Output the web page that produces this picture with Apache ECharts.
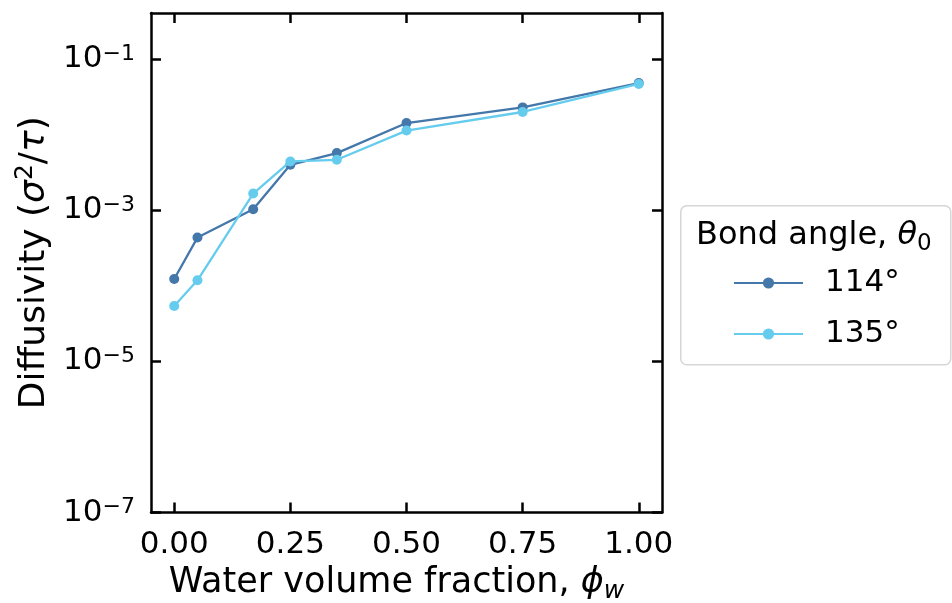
<!DOCTYPE html>
<html><head><meta charset="utf-8">
<script src="https://cdn.jsdelivr.net/npm/echarts@6/dist/echarts.min.js"></script>
<style>html,body{margin:0;padding:0;background:#fff}#c{width:952px;height:603px}</style>
</head><body><div id="c"></div>
<script>
const phi = [0, 0.05, 0.17, 0.25, 0.35, 0.5, 0.75, 1.0];
const d114 = [1.23e-4, 4.34e-4, 1.03e-3, 3.98e-3, 5.69e-3, 0.0142, 0.0229, 0.048];
const d135 = [5.4e-5, 1.18e-4, 1.66e-3, 4.41e-3, 4.64e-3, 0.0113, 0.0199, 0.0467];
const seriesNames = ['114°', '135°'];
const seriesColors = ['#4477AA', '#66CCEE'];
const xTicks = [0, 0.25, 0.5, 0.75, 1.0];
const xTickLabels = ['0.00', '0.25', '0.50', '0.75', '1.00'];
const yTicks = [1e-7, 1e-5, 1e-3, 1e-1];
const yTickExponents = ['−7', '−5', '−3', '−1'];
const xRange = [-0.05, 1.05];
const yRange = [1e-7, 0.406];

const FONT = 'DejaVu Sans';
const chart = echarts.init(document.getElementById('c'), null, {renderer: 'canvas'});

function pairs(xs, ys) { return xs.map((x, i) => [x, ys[i]]); }

const tickStyle = {show: true, inside: true, length: 10, lineStyle: {color: '#000', width: 2.5}};
const lineStyle = {show: true, onZero: false, lineStyle: {color: '#000', width: 2.5}};

function yFmt(v) {
  for (let i = 0; i < yTicks.length; i++) {
    if (Math.abs(Math.log10(v) - Math.log10(yTicks[i])) < 1e-6) return '{b|10}{s|' + yTickExponents[i] + '}';
  }
  return '';
}
function xFmt(v) {
  for (let i = 0; i < xTicks.length; i++) if (Math.abs(v - xTicks[i]) < 1e-9) return xTickLabels[i];
  return '';
}

const option = {
  animation: false,
  backgroundColor: '#fff',
  grid: {left: 151, right: 290, top: 13, height: 499.5, containLabel: false, outerBoundsMode: 'none'},
  xAxis: [{
    type: 'value', min: xRange[0], max: xRange[1], position: 'bottom',
    axisLine: lineStyle,
    axisTick: Object.assign({customValues: xTicks}, tickStyle),
    axisLabel: {customValues: xTicks, formatter: xFmt, fontFamily: FONT, fontSize: 31, color: '#000', margin: 17},
    splitLine: {show: false},
    name: '{t|Water volume fraction, }{i|ϕ}{sub|w}',
    nameLocation: 'middle', nameGap: 47,
    nameTextStyle: {padding: [0, 20, 0, 0], rich: {
      t: {fontFamily: FONT, fontSize: 35, color: '#000', lineHeight: 42},
      i: {fontFamily: FONT, fontStyle: 'italic', fontSize: 35, color: '#000', lineHeight: 42},
      sub: {fontFamily: FONT, fontStyle: 'italic', fontSize: 25, color: '#000', lineHeight: 26, verticalAlign: 'bottom'}
    }}
  }, {
    type: 'value', min: xRange[0], max: xRange[1], position: 'top',
    axisLine: lineStyle,
    axisTick: Object.assign({customValues: xTicks}, tickStyle),
    axisLabel: {show: false}, splitLine: {show: false}
  }],
  yAxis: [{
    type: 'log', logBase: 10, min: yRange[0], max: yRange[1], position: 'left',
    axisLine: lineStyle,
    axisTick: Object.assign({customValues: yTicks}, tickStyle),
    minorTick: {show: false},
    axisLabel: {customValues: yTicks, formatter: yFmt, margin: 16, rich: {
      b: {fontFamily: FONT, fontSize: 31, color: '#000', lineHeight: 32},
      s: {fontFamily: FONT, fontSize: 22, color: '#000', lineHeight: 16, verticalAlign: 'top'}
    }},
    splitLine: {show: false},
    name: '{t|Diffusivity (}{i|σ}{sup|2}{t|/}{i|τ}{t|)}',
    nameLocation: 'middle', nameGap: 92, nameRotate: 90,
    nameTextStyle: {rich: {
      t: {fontFamily: FONT, fontSize: 36, color: '#000', lineHeight: 42},
      i: {fontFamily: FONT, fontStyle: 'italic', fontSize: 36, color: '#000', lineHeight: 42},
      sup: {fontFamily: FONT, fontSize: 25, color: '#000', lineHeight: 20, verticalAlign: 'top'}
    }}
  }, {
    type: 'log', logBase: 10, min: yRange[0], max: yRange[1], position: 'right',
    axisLine: lineStyle,
    axisTick: Object.assign({customValues: yTicks}, tickStyle),
    minorTick: {show: false},
    axisLabel: {show: false}, splitLine: {show: false}
  }],
  legend: {
    orient: 'vertical', left: 728, top: 260, itemWidth: 69, itemHeight: 14, itemGap: 15,
    data: seriesNames,
    textStyle: {fontFamily: FONT, fontSize: 31, color: '#000', lineHeight: 36, padding: [0, 0, 0, 17]}
  },
  graphic: [{
    type: 'rect', left: 680, top: 205, z: -1,
    shape: {width: 270, height: 159, r: 6},
    style: {fill: '#fff', stroke: '#d6d6d6', lineWidth: 1.5}
  }, {
    type: 'text', left: 696, top: 220,
    style: {
      text: '{t|Bond angle, }{i|θ}{sub|0}',
      rich: {
        t: {fontFamily: FONT, fontSize: 32, fill: '#000', lineHeight: 40},
        i: {fontFamily: FONT, fontStyle: 'italic', fontSize: 32, fill: '#000', lineHeight: 40},
        sub: {fontFamily: FONT, fontSize: 23, fill: '#000', lineHeight: 24, verticalAlign: 'bottom'}
      }
    }
  }],
  series: [{
    name: seriesNames[0], type: 'line', data: pairs(phi, d114),
    symbol: 'circle', symbolSize: 10, color: seriesColors[0],
    lineStyle: {width: 2.3, color: seriesColors[0]}, itemStyle: {color: seriesColors[0]}, z: 2
  }, {
    name: seriesNames[1], type: 'line', data: pairs(phi, d135),
    symbol: 'circle', symbolSize: 10, color: seriesColors[1],
    lineStyle: {width: 2.3, color: seriesColors[1]}, itemStyle: {color: seriesColors[1]}, z: 3
  }]
};
chart.setOption(option);
</script></body></html>
